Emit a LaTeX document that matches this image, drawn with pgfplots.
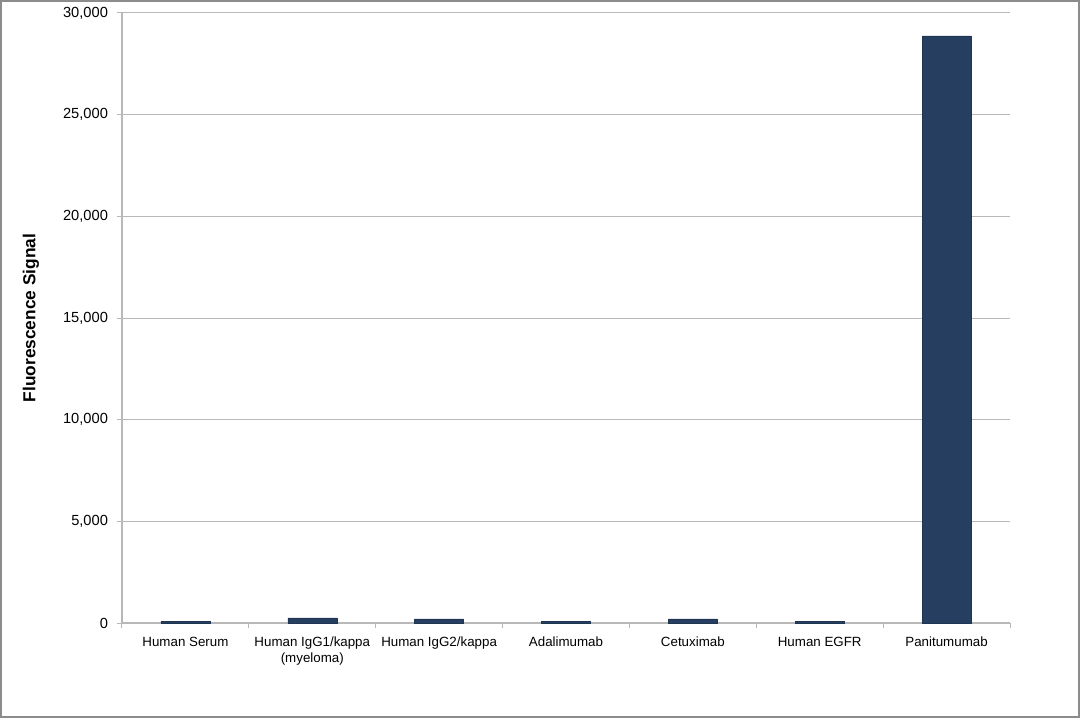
\documentclass[border=0pt]{standalone}
\usepackage{pgfplots}
\pgfplotsset{compat=1.18}
\usepackage{fontspec}
\setmainfont{Liberation Sans}

\definecolor{barblue}{RGB}{38,62,96}
\definecolor{gridgray}{RGB}{184,184,184}
\definecolor{framegray}{RGB}{140,140,140}

\begin{document}
\begin{tikzpicture}
  % page = 1080 x 718 px, 1px = 0.75pt; axis corner at (0,0)
  \useasboundingbox (-91.5pt,-71.25pt) rectangle (718.5pt,467.25pt);
  \draw[framegray, line width=1.5pt] (-90.75pt,-70.5pt) rectangle (717.75pt,466.5pt);

  \begin{axis}[
    scale only axis,
    width=666pt, height=457.5pt,
    xmin=-0.5, xmax=6.5,
    ymin=0, ymax=30000,
    xtick={0,...,6},
    xticklabels={Human Serum,
      {Human IgG1/kappa\\(myeloma)},
      Human IgG2/kappa,
      Adalimumab,
      Cetuximab,
      Human EGFR,
      Panitumumab},
    xticklabel style={align=center, yshift=-3pt, font=\fontsize{10}{11.5}\selectfont},
    major x tick style={draw=none},
    minor xtick={-0.5,0.5,...,6.5},
    ytick={0,5000,...,30000},
    yticklabel style={xshift=-3pt, font=\fontsize{11}{13}\selectfont},
    scaled y ticks=false,
    /pgf/number format/.cd, fixed, 1000 sep={,}, assume math mode=true,
    /pgfplots/.cd,
    tick align=outside,
    tick pos=left,
    major tick length=4pt,
    minor tick length=4pt,
    tick style={gridgray, line width=0.75pt},
    axis lines*=left,
    axis line style={gridgray, line width=1pt},
    ymajorgrids,
    grid style={gridgray, line width=0.75pt},
    ylabel={Fluorescence Signal},
    ylabel style={at={(axis description cs:-0.1025,0.5)}, anchor=center,
      font=\fontsize{13}{15}\selectfont\bfseries},
    ybar, bar width=0.386,
  ]
    \addplot[fill=barblue, draw=barblue!85!black, line width=0.4pt] coordinates {
      (0,80) (1,250) (2,200) (3,80) (4,200) (5,80) (6,28870)
    };
  \end{axis}
\end{tikzpicture}
\end{document}
